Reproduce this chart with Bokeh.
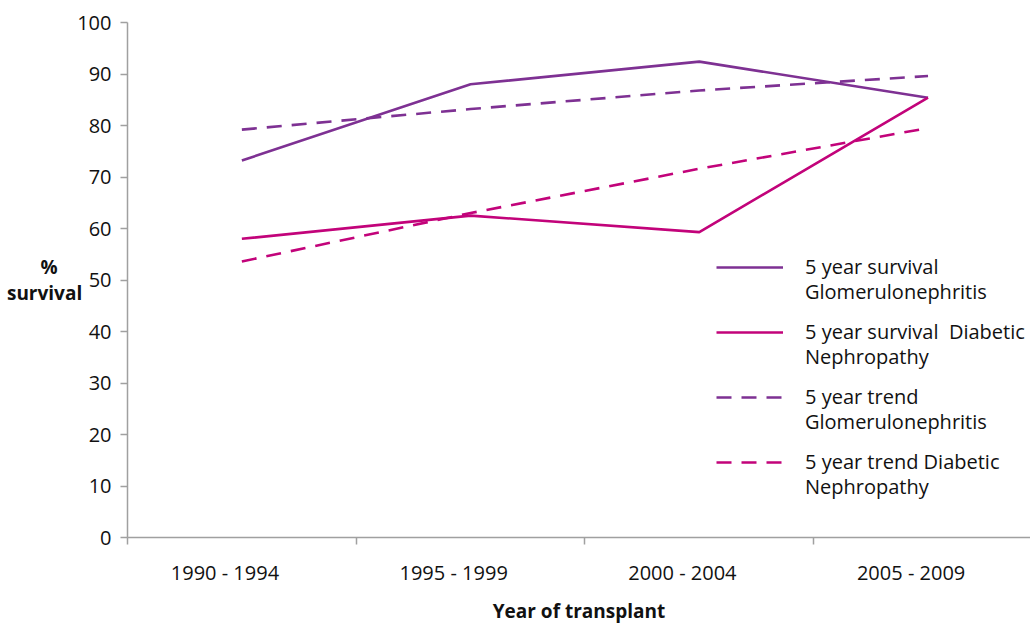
from bokeh.plotting import figure
from bokeh.models import FixedTicker, Legend, LegendItem, Range1d
from bokeh.embed import file_html
from bokeh.resources import INLINE

periods = ["1990 - 1994", "1995 - 1999", "2000 - 2004", "2005 - 2009"]
surv_glom = [73.2, 88.0, 92.4, 85.4]
surv_diab = [58.0, 62.5, 59.3, 85.4]
trend_glom = [79.2, 83.2, 86.8, 89.6]
trend_diab = [53.6, 63.0, 71.6, 79.5]
legend_first = ["5 year survival", "5 year survival  Diabetic", "5 year trend", "5 year trend Diabetic"]
legend_second = ["Glomerulonephritis", "Nephropathy", "Glomerulonephritis", "Nephropathy"]

PURPLE = "#7E3193"
MAGENTA = "#C2037A"
FONT = "Open Sans"
AXIS = "#a0a0a0"
NBSP = "\u00a0"

xs = [i + 0.5 for i in range(len(periods))]
label_pos = [round(x - 0.074, 3) for x in xs]

p = figure(width=1030, height=626, output_backend="svg", toolbar_location=None,
           x_range=Range1d(0, 3.948), y_range=Range1d(0, 100),
           min_border_left=127, min_border_right=0, min_border_top=22, min_border_bottom=80)
p.outline_line_color = None
p.grid.grid_line_color = None
p.background_fill_color = "white"
p.border_fill_color = "white"

r1 = p.line(xs, surv_glom, line_color=PURPLE, line_width=2.6)
r2 = p.line(xs, surv_diab, line_color=MAGENTA, line_width=2.6)
r3 = p.line(xs, trend_glom, line_color=PURPLE, line_width=2.6, line_dash="15 10")
r4 = p.line(xs, trend_diab, line_color=MAGENTA, line_width=2.6, line_dash="15 10")

# x axis
xa = p.xaxis[0]
xa.ticker = FixedTicker(ticks=label_pos, minor_ticks=[0, 1, 2, 3, 4])
xa.major_label_overrides = {x: lab for x, lab in zip(label_pos, periods)}
xa.major_tick_out = 0
xa.major_tick_in = 0
xa.minor_tick_out = 7
xa.minor_tick_in = 0
xa.minor_tick_line_color = AXIS
xa.minor_tick_line_width = 1.5
xa.axis_line_color = AXIS
xa.axis_line_width = 1.5
xa.major_label_standoff = 14
xa.major_label_text_font = FONT
xa.major_label_text_font_size = "20px"
xa.major_label_text_color = "#111111"
xa.axis_label = "Year of transplant"
xa.axis_label_text_font = FONT
xa.axis_label_text_font_style = "bold"
xa.axis_label_text_font_size = "19px"
xa.axis_label_standoff = 9
xa.axis_label_text_color = "#111111"

# y axis
ya = p.yaxis[0]
ya.ticker = FixedTicker(ticks=list(range(0, 101, 10)))
ya.minor_tick_line_color = None
ya.major_tick_out = 7
ya.major_tick_in = 0
ya.major_tick_line_color = AXIS
ya.major_tick_line_width = 1.5
ya.axis_line_color = AXIS
ya.axis_line_width = 1.5
ya.major_label_standoff = 9
ya.major_label_text_font = FONT
ya.major_label_text_font_size = "20px"
ya.major_label_text_color = "#111111"
ya.axis_label = "%" + NBSP * 5 + "\nsurvival"
ya.axis_label_orientation = "horizontal"
ya.axis_label_text_font = FONT
ya.axis_label_text_font_style = "bold"
ya.axis_label_text_font_size = "19px"
ya.axis_label_text_color = "#111111"
ya.axis_label_text_line_height = 1.0
ya.axis_label_standoff = -8

renderers = [r1, r2, r3, r4]

legend_a = Legend(items=[LegendItem(label=t, renderers=[r]) for t, r in zip(legend_first, renderers)],
                  location=(589, 62))
legend_b = Legend(items=[LegendItem(label=t, renderers=[r]) for t, r in zip(legend_second, renderers)],
                  location=(589, 37))
for lg, gw, st in ((legend_a, 67, 22), (legend_b, 0, 89)):
    lg.border_line_color = None
    lg.background_fill_alpha = 0
    lg.glyph_width = gw
    lg.glyph_height = 20
    lg.label_text_font = FONT
    lg.label_text_font_size = "20px"
    lg.label_text_color = "#111111"
    lg.label_standoff = st
    lg.label_height = 27
    lg.spacing = 38
    lg.padding = 2
    lg.margin = 0
p.add_layout(legend_a)
p.add_layout(legend_b)

open("out.html", "w").write(file_html(p, INLINE))
